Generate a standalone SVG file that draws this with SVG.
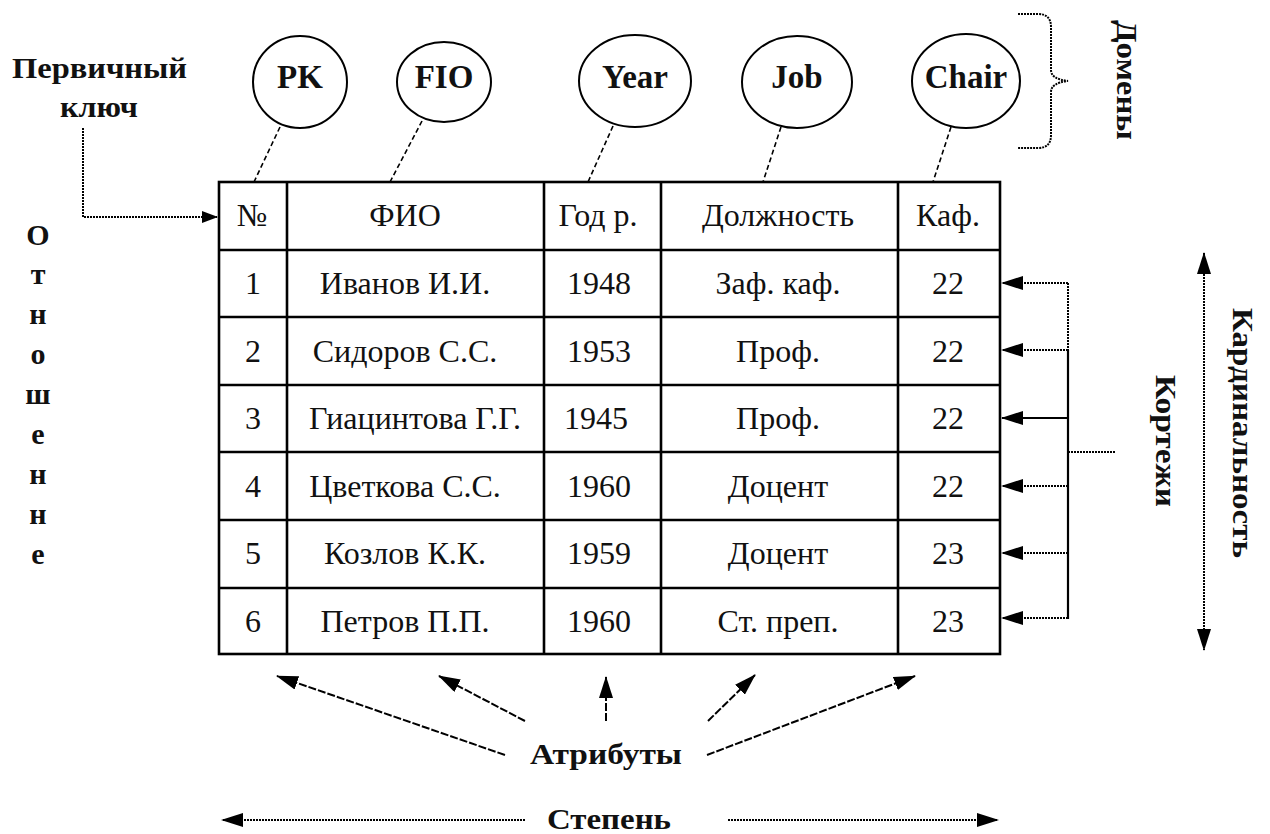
<svg xmlns="http://www.w3.org/2000/svg" width="1270" height="834" viewBox="0 0 1270 834">
  <style>
    .cell { font-family: "Liberation Serif", "Times New Roman", serif; font-size: 32px; fill: #111; text-anchor: middle; }
    .dom { font-family: "Liberation Serif", "Times New Roman", serif; font-size: 33px; font-weight: bold; fill: #111; text-anchor: middle; }
    .lbl { font-family: "Liberation Serif", "Times New Roman", serif; font-size: 30px; font-weight: bold; fill: #111; }
    .grid { stroke: #000; stroke-width: 2.6; fill: none; }
    .ell { stroke: #000; stroke-width: 2; fill: #fff; }
    .dash { stroke: #000; stroke-width: 1.6; stroke-dasharray: 5 3; fill: none; }
    .dot { stroke: #000; stroke-width: 2; stroke-dasharray: 2 1; fill: none; }
    .solid { stroke: #000; stroke-width: 2.2; fill: none; }
    .adash { stroke: #000; stroke-width: 2; stroke-dasharray: 8 2; fill: none; }
  </style>
  <defs>
    <marker id="tri" viewBox="0 0 22 14" refX="21" refY="7" markerWidth="22" markerHeight="14" markerUnits="userSpaceOnUse" orient="auto-start-reverse">
      <path d="M0,0 L22,7 L0,14 z" fill="#000"/>
    </marker>
    <marker id="triS" viewBox="0 0 16 12" refX="15" refY="6" markerWidth="16" markerHeight="12" markerUnits="userSpaceOnUse" orient="auto">
      <path d="M0,0 L16,6 L0,12 z" fill="#000"/>
    </marker>
  </defs>

  <!-- relation table -->
  <g id="table">
    <rect class="grid" x="219" y="182" width="781" height="472"/>
    <g class="grid">
      <line x1="287" y1="182" x2="287" y2="654"/>
      <line x1="544" y1="182" x2="544" y2="654"/>
      <line x1="661" y1="182" x2="661" y2="654"/>
      <line x1="898" y1="182" x2="898" y2="654"/>
      <line x1="219" y1="250" x2="1000" y2="250"/>
      <line x1="219" y1="317" x2="1000" y2="317"/>
      <line x1="219" y1="385" x2="1000" y2="385"/>
      <line x1="219" y1="452" x2="1000" y2="452"/>
      <line x1="219" y1="520" x2="1000" y2="520"/>
      <line x1="219" y1="588" x2="1000" y2="588"/>
    </g>
    <g class="cell">
      <text x="252" y="226">№</text>
      <text x="405" y="226">ФИО</text>
      <text x="598" y="226">Год р.</text>
      <text x="778" y="226">Должность</text>
      <text x="948" y="226">Каф.</text>

      <text x="253" y="294">1</text>
      <text x="405" y="294">Иванов И.И.</text>
      <text x="599" y="294">1948</text>
      <text x="778" y="294">Заф. каф.</text>
      <text x="948" y="294">22</text>

      <text x="253" y="362">2</text>
      <text x="405" y="362">Сидоров С.С.</text>
      <text x="599" y="362">1953</text>
      <text x="778" y="362">Проф.</text>
      <text x="948" y="362">22</text>

      <text x="253" y="429">3</text>
      <text x="415" y="429">Гиацинтова Г.Г.</text>
      <text x="596" y="429">1945</text>
      <text x="778" y="429">Проф.</text>
      <text x="948" y="429">22</text>

      <text x="253" y="497">4</text>
      <text x="405" y="497">Цветкова С.С.</text>
      <text x="599" y="497">1960</text>
      <text x="778" y="497">Доцент</text>
      <text x="948" y="497">22</text>

      <text x="253" y="564">5</text>
      <text x="405" y="564">Козлов К.К.</text>
      <text x="599" y="564">1959</text>
      <text x="778" y="564">Доцент</text>
      <text x="948" y="564">23</text>

      <text x="253" y="632">6</text>
      <text x="405" y="632">Петров П.П.</text>
      <text x="599" y="632">1960</text>
      <text x="778" y="632">Ст. преп.</text>
      <text x="948" y="632">23</text>
    </g>
  </g>

  <!-- attribute domains -->
  <g id="dom-pk">
    <ellipse class="ell" cx="300" cy="82" rx="47" ry="46"/>
    <text class="dom" x="300" y="88">PK</text>
  </g>
  <g id="dom-fio">
    <ellipse class="ell" cx="444" cy="82" rx="47" ry="40"/>
    <text class="dom" x="444" y="88">FIO</text>
  </g>
  <g id="dom-year">
    <ellipse class="ell" cx="635" cy="81" rx="56" ry="46"/>
    <text class="dom" x="635" y="88">Year</text>
  </g>
  <g id="dom-job">
    <ellipse class="ell" cx="797" cy="82" rx="55" ry="46"/>
    <text class="dom" x="797" y="88">Job</text>
  </g>
  <g id="dom-chair">
    <ellipse class="ell" cx="966" cy="81" rx="54" ry="47"/>
    <text class="dom" x="966" y="88">Chair</text>
  </g>

  <!-- side labels -->
  <g id="label-pk">
    <text class="lbl" x="12" y="78" textLength="175" lengthAdjust="spacingAndGlyphs">Первичный</text>
    <text class="lbl" x="60" y="117" textLength="78" lengthAdjust="spacingAndGlyphs">ключ</text>
  </g>
  <g id="label-relation" class="lbl" text-anchor="middle">
    <text x="38" y="245">О</text>
    <text x="38" y="284">т</text>
    <text x="38" y="324">н</text>
    <text x="38" y="364">о</text>
    <text x="38" y="404">ш</text>
    <text x="38" y="444">е</text>
    <text x="38" y="484">н</text>
    <text x="38" y="524">н</text>
    <text x="38" y="564">е</text>
  </g>
  <g id="label-domains">
    <text class="lbl" transform="translate(1117,20) rotate(90)" textLength="120" lengthAdjust="spacingAndGlyphs">Домены</text>
  </g>
  <g id="label-tuples">
    <text class="lbl" transform="translate(1156,375) rotate(90)" textLength="132" lengthAdjust="spacingAndGlyphs">Кортежи</text>
  </g>
  <g id="label-cardinality">
    <text class="lbl" transform="translate(1233,308) rotate(90)" textLength="250" lengthAdjust="spacingAndGlyphs">Кардинальность</text>
  </g>
  <g id="label-attributes">
    <text class="lbl" x="530" y="764" textLength="152" lengthAdjust="spacingAndGlyphs">Атрибуты</text>
  </g>
  <g id="label-degree">
    <text class="lbl" x="547" y="829" textLength="124" lengthAdjust="spacingAndGlyphs">Степень</text>
  </g>

  <!-- connectors -->
  <g id="connectors">
    <!-- domain to column -->
    <line class="dash" x1="280" y1="127" x2="254" y2="182"/>
    <line class="dash" x1="422" y1="121" x2="390" y2="182"/>
    <line class="dash" x1="613" y1="126" x2="588" y2="182"/>
    <line class="dash" x1="781" y1="127" x2="763" y2="182"/>
    <line class="dash" x1="951" y1="127" x2="933" y2="182"/>

    <!-- domains brace -->
    <path class="dot" d="M1018,14 H1038 Q1051,14 1051,27 V70 Q1051,79 1068,81 Q1051,83 1051,92 V135 Q1051,148 1038,148 H1018"/>

    <!-- primary key pointer -->
    <polyline class="dot" points="83,128 83,217 217,217" marker-end="url(#triS)"/>

    <!-- tuples -->
    <line class="dot" x1="1068" y1="283" x2="1068" y2="350"/>
    <line class="solid" x1="1068" y1="350" x2="1068" y2="619"/>
    <line class="dot" x1="1068" y1="452" x2="1116" y2="452"/>
    <line class="dot" x1="1068" y1="283" x2="1002" y2="283" marker-end="url(#tri)"/>
    <line class="dot" x1="1068" y1="350" x2="1002" y2="350" marker-end="url(#tri)"/>
    <line class="solid" x1="1068" y1="418" x2="1002" y2="418" marker-end="url(#tri)"/>
    <line class="dot" x1="1068" y1="486" x2="1002" y2="486" marker-end="url(#tri)"/>
    <line class="dot" x1="1068" y1="553" x2="1002" y2="553" marker-end="url(#tri)"/>
    <line class="dot" x1="1068" y1="618" x2="1002" y2="618" marker-end="url(#tri)"/>

    <!-- cardinality -->
    <line class="dot" x1="1204" y1="253" x2="1204" y2="650" marker-start="url(#tri)" marker-end="url(#tri)"/>

    <!-- attributes -->
    <line class="adash" x1="505" y1="755" x2="277" y2="676" marker-end="url(#tri)"/>
    <line class="adash" x1="525" y1="721" x2="439" y2="676" marker-end="url(#tri)"/>
    <line class="adash" x1="606" y1="721" x2="606" y2="677" marker-end="url(#tri)"/>
    <line class="adash" x1="708" y1="721" x2="755" y2="675" marker-end="url(#tri)"/>
    <line class="adash" x1="707" y1="755" x2="915" y2="676" marker-end="url(#tri)"/>

    <!-- degree -->
    <line class="dot" x1="525" y1="820" x2="222" y2="820" marker-end="url(#tri)"/>
    <line class="dot" x1="728" y1="820" x2="998" y2="820" marker-end="url(#tri)"/>
  </g>
</svg>
